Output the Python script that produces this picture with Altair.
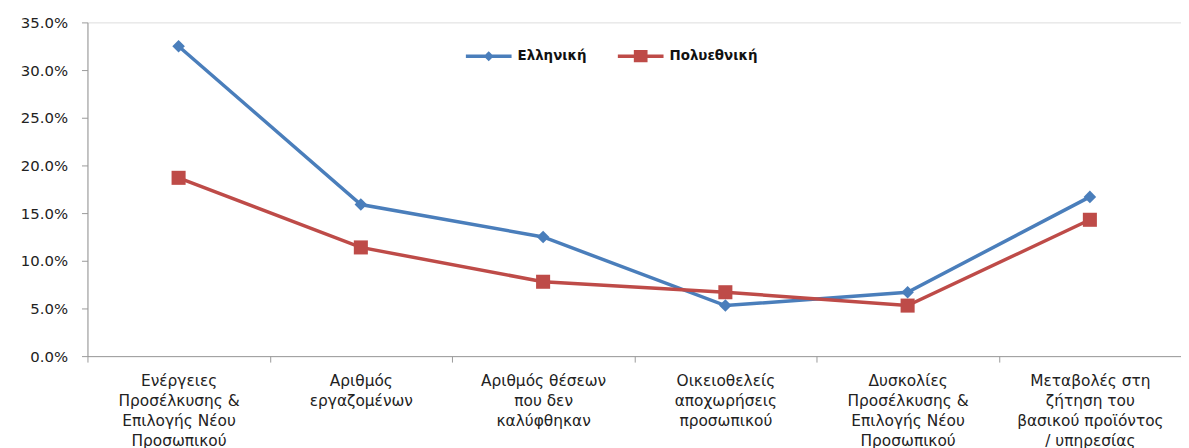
import altair as alt
import pandas as pd

categories = [
    "Ενέργειες\nΠροσέλκυσης &\nΕπιλογής Νέου\nΠροσωπικού",
    "Αριθμός\nεργαζομένων",
    "Αριθμός θέσεων\nπου δεν\nκαλύφθηκαν",
    "Οικειοθελείς\nαποχωρήσεις\nπροσωπικού",
    "Δυσκολίες\nΠροσέλκυσης &\nΕπιλογής Νέου\nΠροσωπικού",
    "Μεταβολές στη\nζήτηση του\nβασικού προϊόντος\n/ υπηρεσίας",
]
series_names = ["Ελληνική", "Πολυεθνική"]
greek = [0.325, 0.159, 0.125, 0.053, 0.067, 0.167]
multi = [0.187, 0.114, 0.078, 0.067, 0.053, 0.143]
y_ticks = [0.0, 0.05, 0.10, 0.15, 0.20, 0.25, 0.30, 0.35]
colors = ["#4A7EBB", "#BE4B48"]

rows = []
for name, vals in zip(series_names, [greek, multi]):
    for c, v in zip(categories, vals):
        rows.append({"series": name, "category": c, "value": v})
df = pd.DataFrame(rows)

FONT = "DejaVu Sans"

x_enc = alt.X(
    "category:N",
    sort=categories,
    scale=alt.Scale(type="band", paddingInner=0, paddingOuter=0),
    axis=alt.Axis(
        title=None,
        labelAngle=0,
        labelExpr="split(datum.label, '\\n')",
        labelLineHeight=20,
        labelFont=FONT,
        labelFontSize=15.5,
        labelColor="#222222",
        labelPadding=12,
        labelLimit=250,
        labelOverlap=False,
        tickBand="extent",
        tickSize=6,
        tickColor="#9A9A9A",
        domainColor="#9A9A9A",
        grid=False,
    ),
)
y_enc = alt.Y(
    "value:Q",
    scale=alt.Scale(domain=[0, 0.35], nice=False),
    axis=alt.Axis(
        title=None,
        values=y_ticks,
        format=".1%",
        labelFont=FONT,
        labelFontSize=15,
        labelColor="#222222",
        labelPadding=14,
        tickSize=6,
        tickColor="#9A9A9A",
        domainColor="#9A9A9A",
        grid=False,
    ),
)
color_enc = alt.Color(
    "series:N",
    scale=alt.Scale(domain=series_names, range=colors),
    legend=None,
)

lines = alt.Chart(df).mark_line(strokeWidth=3.5).encode(x=x_enc, y=y_enc, color=color_enc)

points = alt.Chart(df).mark_point(filled=True, opacity=1).encode(
    x=x_enc,
    y=y_enc,
    color=color_enc,
    shape=alt.Shape(
        "series:N",
        scale=alt.Scale(domain=series_names, range=["diamond", "square"]),
        legend=None,
    ),
    size=alt.Size(
        "series:N",
        scale=alt.Scale(domain=series_names, range=[160, 200]),
        legend=None,
    ),
)

legend_paths = [
    "M-1,-0.075H1V0.075H-1Z M0,-0.22L0.22,0L0,0.22L-0.22,0Z",
    "M-1,-0.075H1V0.075H-1Z M-0.3,-0.27H0.3V0.27H-0.3Z",
]
legend_x = [381, 534]


def legend_layer(i):
    return alt.Chart(df).transform_filter("datum.value < 0").mark_point(
        filled=True, opacity=1, color=colors[i]
    ).encode(
        x=x_enc,
        y=y_enc,
        shape=alt.Shape(
            "series:N",
            scale=alt.Scale(domain=[series_names[i]], range=[legend_paths[i]]),
            legend=alt.Legend(
                title=None,
                orient="none",
                direction="horizontal",
                legendX=legend_x[i],
                legendY=11,
                symbolSize=2116,
                symbolOpacity=1,
                symbolFillColor=colors[i],
                symbolStrokeWidth=0,
                labelFont=FONT,
                labelFontSize=13.5,
                labelFontWeight="bold",
                labelColor="#111111",
                labelOffset=6,
            ),
        ),
    )


chart = (
    alt.layer(lines, points, legend_layer(0), legend_layer(1))
    .resolve_scale(shape="independent", size="independent")
    .properties(
        width=1101,
        height=336,
        autosize=alt.AutoSizeParams(type="none"),
        padding={"left": 80, "top": 13, "right": 0, "bottom": 91},
    )
    .configure_view(stroke=None)
    .configure(background="white")
)

chart.save("out.html", embed_options={"renderer": "svg", "actions": False})
